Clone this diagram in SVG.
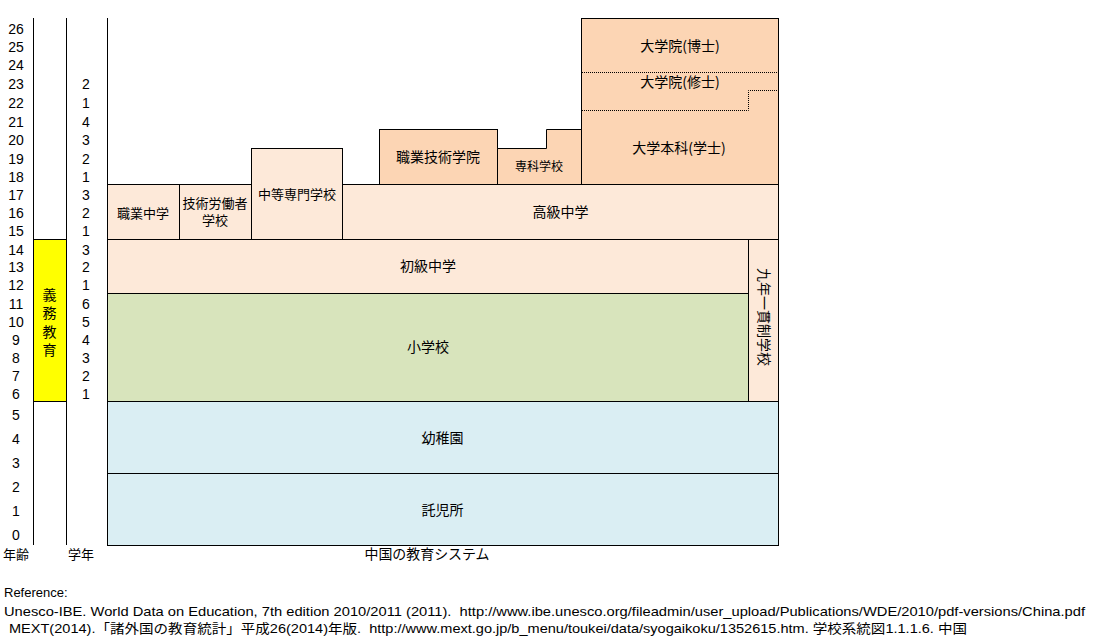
<svg xmlns="http://www.w3.org/2000/svg" width="1104" height="636" viewBox="0 0 1104 636">
<style>
.box{stroke:#000;stroke-width:1}
.lt{fill:#FDE9D9}
.dk{fill:#FCD5B4}
.gr{fill:#D8E4BC}
.bl{fill:#DAEEF3}
.ye{fill:#FFFF00}
.jp{font-family:"Noto Sans CJK JP","Noto Sans CJK SC",sans-serif;font-size:13px;fill:#000;text-anchor:middle}
.big{font-size:14px}
.sm{font-size:12px}
.num{font-family:"Liberation Sans",Arial,sans-serif;font-size:14px;fill:#000;text-anchor:middle}
.ref{font-family:"Liberation Sans","Noto Sans CJK JP",sans-serif;font-size:13px;fill:#000}
.ax{stroke:#000;stroke-width:1;fill:none}
.dot{stroke:#000;stroke-width:1;fill:none;stroke-dasharray:1 1}
</style>
<rect width="1104" height="636" fill="#fff"/>

<g id="connectors">
<line class="ax" x1="33.5" y1="18" x2="33.5" y2="545"/>
<line class="ax" x1="66.5" y1="18" x2="66.5" y2="545"/>
<line class="ax" x1="107.5" y1="18" x2="107.5" y2="546"/>
</g>

<g id="gimu">
<rect class="box ye" x="33.5" y="239.5" width="33" height="162"/>
<text class="jp big"><tspan x="49.5" y="300">義</tspan><tspan x="49.5" y="318">務</tspan><tspan x="49.5" y="337">教</tspan><tspan x="49.5" y="355">育</tspan></text>
</g>

<g id="ages">
<text class="num" x="16" y="34">26</text>
<text class="num" x="16" y="52">25</text>
<text class="num" x="16" y="70">24</text>
<text class="num" x="16" y="89">23</text>
<text class="num" x="16" y="108">22</text>
<text class="num" x="16" y="127">21</text>
<text class="num" x="16" y="145">20</text>
<text class="num" x="16" y="164">19</text>
<text class="num" x="16" y="182">18</text>
<text class="num" x="16" y="200">17</text>
<text class="num" x="16" y="218">16</text>
<text class="num" x="16" y="236">15</text>
<text class="num" x="16" y="255">14</text>
<text class="num" x="16" y="272">13</text>
<text class="num" x="16" y="290">12</text>
<text class="num" x="16" y="309">11</text>
<text class="num" x="16" y="327">10</text>
<text class="num" x="16" y="345">9</text>
<text class="num" x="16" y="363">8</text>
<text class="num" x="16" y="381">7</text>
<text class="num" x="16" y="399">6</text>
<text class="num" x="16" y="420">5</text>
<text class="num" x="16" y="444">4</text>
<text class="num" x="16" y="468">3</text>
<text class="num" x="16" y="492">2</text>
<text class="num" x="16" y="516">1</text>
<text class="num" x="16" y="540">0</text>
<text class="jp" x="16" y="559">年齢</text>
</g>

<g id="grades">
<text class="num" x="86" y="89">2</text>
<text class="num" x="86" y="108">1</text>
<text class="num" x="86" y="127">4</text>
<text class="num" x="86" y="145">3</text>
<text class="num" x="86" y="164">2</text>
<text class="num" x="86" y="182">1</text>
<text class="num" x="86" y="200">3</text>
<text class="num" x="86" y="218">2</text>
<text class="num" x="86" y="236">1</text>
<text class="num" x="86" y="255">3</text>
<text class="num" x="86" y="272">2</text>
<text class="num" x="86" y="290">1</text>
<text class="num" x="86" y="309">6</text>
<text class="num" x="86" y="327">5</text>
<text class="num" x="86" y="345">4</text>
<text class="num" x="86" y="363">3</text>
<text class="num" x="86" y="381">2</text>
<text class="num" x="86" y="399">1</text>
<text class="jp" x="81" y="559">学年</text>
</g>

<g id="university">
<rect class="box dk" x="581.5" y="18.5" width="197" height="166"/>
<line class="dot" x1="582" y1="72.5" x2="778" y2="72.5"/>
<path class="dot" d="M582 110.5 H748.5 V90.5 H778"/>
<text class="jp big" x="680" y="51">大学院(博士)</text>
<text class="jp big" x="680" y="87">大学院(修士)</text>
<text class="jp big" x="679" y="153">大学本科(学士)</text>
</g>

<g id="shokugyo-gijutsu-gakuin">
<rect class="box dk" x="379.5" y="129.5" width="118" height="55"/>
<text class="jp big" x="438" y="162">職業技術学院</text>
</g>

<g id="senka-gakko">
<path class="box dk" d="M497.5 184.5 V148.5 H546.5 V129.5 H581.5 V184.5 Z"/>
<text class="jp sm" x="539" y="171">専科学校</text>
</g>

<g id="shokugyo-chugaku">
<rect class="box lt" x="107.5" y="184.5" width="72" height="55"/>
<text class="jp" x="143" y="218">職業中学</text>
</g>

<g id="gijutsu-rodosha">
<rect class="box lt" x="179.5" y="184.5" width="72" height="55"/>
<text class="jp"><tspan x="215" y="208">技術労働者</tspan><tspan x="215" y="225">学校</tspan></text>
</g>

<g id="chuto-senmon">
<rect class="box lt" x="251.5" y="148.5" width="91" height="91"/>
<text class="jp" x="297" y="199">中等専門学校</text>
</g>

<g id="kokyu-chugaku">
<rect class="box lt" x="342.5" y="184.5" width="436" height="55"/>
<text class="jp big" x="560.5" y="217">高級中学</text>
</g>

<g id="shokyu-chugaku">
<rect class="box lt" x="107.5" y="239.5" width="641" height="54"/>
<text class="jp big" x="428" y="271">初級中学</text>
</g>

<g id="kyunen-ikkan">
<rect class="box lt" x="748.5" y="239.5" width="30" height="162"/>
<text class="jp big" transform="translate(758.5 317) rotate(90)" x="0" y="0">九年一貫制学校</text>
</g>

<g id="shogakko">
<rect class="box gr" x="107.5" y="293.5" width="641" height="108"/>
<text class="jp big" x="428" y="352">小学校</text>
</g>

<g id="yochien">
<rect class="box bl" x="107.5" y="401.5" width="671" height="72"/>
<text class="jp big" x="442.5" y="443">幼稚園</text>
</g>

<g id="takujisho">
<rect class="box bl" x="107.5" y="473.5" width="671" height="72"/>
<text class="jp big" x="442.5" y="515">託児所</text>
</g>

<g id="caption">
<text class="jp big" x="427" y="559" textLength="125" lengthAdjust="spacingAndGlyphs">中国の教育システム</text>
</g>

<g id="references">
<text class="ref" x="4" y="597">Reference:</text>
<text class="ref" x="4" y="616" xml:space="preserve" textLength="1081" lengthAdjust="spacingAndGlyphs">Unesco-IBE. World Data on Education, 7th edition 2010/2011 (2011).  http://www.ibe.unesco.org/fileadmin/user_upload/Publications/WDE/2010/pdf-versions/China.pdf</text>
<text class="ref" x="9" y="633" xml:space="preserve" textLength="958" lengthAdjust="spacingAndGlyphs">MEXT(2014).「諸外国の教育統計」平成26(2014)年版.  http://www.mext.go.jp/b_menu/toukei/data/syogaikoku/1352615.htm. 学校系統図1.1.1.6. 中国</text>
</g>
</svg>
